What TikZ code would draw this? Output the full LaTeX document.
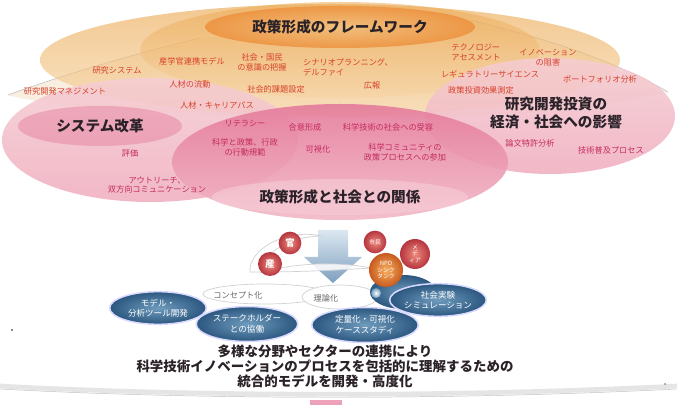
\documentclass[tikz,border=0pt]{standalone}
\usepackage{fontspec}
\setmainfont{Noto Sans CJK JP}
\usetikzlibrary{shapes.geometric}
\definecolor{lblred}{HTML}{D8402A}
\definecolor{lblpink}{HTML}{C42A5E}
\definecolor{ttlc}{HTML}{2A2228}
\definecolor{orA}{HTML}{EBA448}
\definecolor{orB}{HTML}{F6D3A2}
\definecolor{pkA}{HTML}{E57A9B}
\definecolor{pkB}{HTML}{F2B8C6}
\definecolor{pkC}{HTML}{F5CDD3}
\definecolor{beige}{HTML}{F8ECDA}
\definecolor{blA}{HTML}{6F9BBD}
\definecolor{blB}{HTML}{2B5780}
\definecolor{arA}{HTML}{DCE8F2}
\definecolor{arB}{HTML}{7E9FBE}
\definecolor{redIn}{HTML}{EE8A7C}
\definecolor{redOut}{HTML}{B5353F}
\definecolor{orIn}{HTML}{F6B060}
\definecolor{orOut}{HTML}{C85A1E}
\tikzset{
  lbl/.style={font=\fontsize{7}{8.4}\selectfont, text=lblred, align=center, inner sep=0pt},
  plbl/.style={lbl, text=lblpink},
  ttl/.style={font=\fontsize{12.5}{16}\selectfont\bfseries, text=ttlc, align=center, inner sep=0pt},
  bottxt/.style={font=\fontsize{11.5}{14}\selectfont\bfseries, text=ttlc, align=center, inner sep=0pt},
  bubble/.style={circle, inner sep=0pt, text=white, align=center, font=\fontsize{8}{9}\selectfont\bfseries},
  smallbub/.style={bubble, font=\fontsize{5}{5.6}\selectfont},
  redbub/.style={inner color=redIn, outer color=redOut},
  orbub/.style={inner color=orIn, outer color=orOut},
  blueell/.style={ellipse, inner sep=0pt, inner color=blA, outer color=blB, draw=white!85!blue, line width=1.3pt, text=white, align=center, font=\fontsize{7.3}{9}\selectfont},
  grylbl/.style={font=\fontsize{7}{8}\selectfont, text=black!60, inner sep=0pt},
  swoosh/.style={draw=black!18, line width=0.6pt, fill=white, fill opacity=0.85}
}
\begin{document}
\begin{tikzpicture}[x=0.03cm,y=-0.03cm]
\useasboundingbox (0,0) rectangle (677,405);
\fill[white] (0,0) rectangle (677,405);

% faint fan behind everything
\fill[beige, fill opacity=0.8] (8,95) .. controls (60,76) and (130,55) .. (200,38)
  -- (470,20) .. controls (560,42) and (620,64) .. (668,92)
  .. controls (600,110) and (450,120) .. (340,118) .. controls (200,116) and (60,110) .. (8,95) -- cycle;
\draw[black!25, line width=0.5pt] (8,95) .. controls (60,76) and (130,55) .. (200,38);
\draw[black!25, line width=0.5pt] (470,20) .. controls (560,42) and (620,64) .. (668,92);

% orange band
\shade[top color=orA, bottom color=orB, fill opacity=0.6] (330,60) ellipse [x radius=290, y radius=56];
\shade[top color=orA, bottom color=orB, fill opacity=0.5] (340,50) ellipse [x radius=200, y radius=48];
% title ellipse
\shade[inner color=orB!60!orA, outer color=orA!90!red, fill opacity=0.9] (340,27) ellipse [x radius=135, y radius=21];

% left pink ellipse
\shade[top color=pkC, bottom color=pkB!80!pkA, fill opacity=0.85] (150,140) ellipse [x radius=148, y radius=62];
\fill[pkA, fill opacity=0.45] (100,126) ellipse [x radius=82, y radius=20];
% right pink ellipse
\shade[top color=pkC, bottom color=pkB!80!pkA, fill opacity=0.85] (550,116) ellipse [x radius=125, y radius=58];
% centre pink ellipse
\shade[top color=pkA, bottom color=pkB, fill opacity=0.9] (340,162) ellipse [x radius=168, y radius=58];
\fill[pkB!70!white, fill opacity=0.6] (340,197) ellipse [x radius=128, y radius=18];

% titles
\node[ttl] (t1) at (340,27) {政策形成のフレームワーク};
\node[ttl] (t2) at (100,126) {システム改革};
\node[ttl] (t3) at (556,113) {研究開発投資の\\経済・社会への影響};
\node[ttl] (t4) at (340,197) {政策形成と社会との関係};

% orange-area labels
\node[lbl] (a1) at (117,70) {研究システム};
\node[lbl] (a2) at (192,61) {産学官連携モデル};
\node[lbl] (a3) at (262,62) {社会・国民\\の意識の把握};
\node[lbl, align=left] (a4) at (348,67) {シナリオプランニング、\\デルファイ};
\node[lbl, align=left] (a5) at (476,52) {テクノロジー\\アセスメント};
\node[lbl] (a6) at (548,58) {イノベーション\\の阻害};
\node[lbl] (a7) at (65,91) {研究開発マネジメント};
\node[lbl] (a8) at (190,84) {人材の流動};
\node[lbl] (a9) at (276,89) {社会的課題設定};
\node[lbl] (a10) at (372,85) {広報};
\node[lbl] (a11) at (490,74) {レギュラトリーサイエンス};
\node[lbl] (a12) at (600,79) {ポートフォリオ分析};
\node[lbl] (a13) at (481,90) {政策投資効果測定};
\node[lbl] (a14) at (217,105) {人材・キャリアパス};

% pink-area labels
\node[plbl] (b1) at (245,124) {リテラシー};
\node[plbl] (b2) at (305,127) {合意形成};
\node[plbl] (b3) at (388,127) {科学技術の社会への受容};
\node[plbl] (b4) at (245,147) {科学と政策、行政\\の行動規範};
\node[plbl] (b5) at (318,149) {可視化};
\node[plbl] (b6) at (405,152) {科学コミュニティの\\政策プロセスへの参加};
\node[plbl] (b7) at (130,153) {評価};
\node[plbl] (b8) at (157,185) {アウトリーチ、\\双方向コミュニケーション};
\node[plbl] (b9) at (530,143) {論文特許分析};
\node[plbl] (b10) at (611,150) {技術普及プロセス};

% arrow
\shade[top color=arA, bottom color=arB]
  (318,230) -- (348,230) -- (348,257) -- (362,257) -- (333,283) -- (304,257) -- (318,257) -- cycle;

% swooshes / clouds
\draw[swoosh] (250,272) .. controls (248,250) and (285,228) .. (322,236)
  .. controls (292,236) and (262,252) .. (262,272) -- cycle;
\draw[swoosh] (262,272) .. controls (300,262) and (340,262) .. (372,268)
  .. controls (340,270) and (300,272) .. (262,272) -- cycle;
\draw[swoosh] (265,294) ellipse [x radius=62, y radius=10];
\draw[swoosh] (340,297) ellipse [x radius=38, y radius=12];

% bubbles
\shade[inner color=blA, outer color=blB] (403,292) ellipse [x radius=33, y radius=17];
\shade[inner color=white, outer color=blA] (376,293) circle [radius=5];
\node[bubble, redbub, minimum size=0.68cm] (kan) at (290,243) {官};
\node[bubble, redbub, minimum size=0.72cm] (san) at (270,264) {産};
\node[smallbub, redbub, minimum size=0.68cm] (shimin) at (375,242) {市民};
\node[smallbub, redbub, minimum size=0.9cm] (media) at (415,254) {メ\\デ\\ィア};
\node[smallbub, orbub, minimum size=1.02cm] (npo) at (386,270) {NPO\\シンク\\タンク};

% blue ellipses
\node[grylbl] (c1) at (238,295) {コンセプト化};
\node[grylbl] (c2) at (326,298) {理論化};
\node[blueell, minimum width=2.9cm, minimum height=0.98cm] (e4) at (438,300) {社会実験\\シミュレーション};
\node[blueell, minimum width=2.9cm, minimum height=0.98cm] (e1) at (158,308) {モデル・\\分析ツール開発};
\node[blueell, minimum width=3.05cm, minimum height=1.05cm] (e2) at (247,324) {ステークホルダー\\との協働};
\node[blueell, minimum width=3.2cm, minimum height=1.05cm] (e3) at (365,325) {定量化・可視化\\ケーススタディ};

% bottom text
\node[bottxt] (m1) at (325,351) {多様な分野やセクターの連携により};
\node[bottxt] (m2) at (325,366) {科学技術イノベーションのプロセスを包括的に理解するための};
\node[bottxt] (m3) at (325,381) {統合的モデルを開発・高度化};

% bottom band
\draw[black!10, line width=4pt] (0,386) .. controls (200,397) and (460,397) .. (677,386);
\draw[black!25, line width=0.4pt] (0,389) .. controls (200,400) and (460,400) .. (677,389);
\fill[pkA!70!white] (310,400) rectangle (342,405);

% dots
\fill[black!60] (12,330) circle [radius=1.2];
\fill[black!50] (665,384) circle [radius=1];
\end{tikzpicture}
\end{document}
